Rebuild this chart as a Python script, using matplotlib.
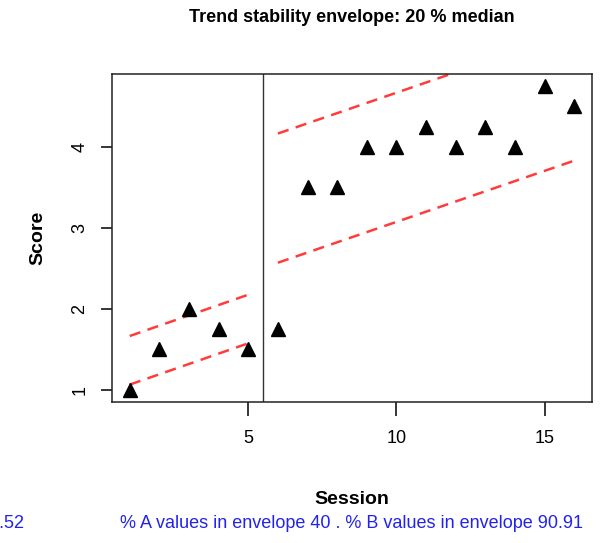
import numpy as np
import matplotlib
matplotlib.use("Agg")
import matplotlib.pyplot as plt

# data
session = [1, 2, 3, 4, 5, 6, 7, 8, 9, 10, 11, 12, 13, 14, 15, 16]
score = [1.0, 1.5, 2.0, 1.75, 1.5, 1.75, 3.5, 3.5, 4.0, 4.0, 4.25, 4.0, 4.25, 4.0, 4.75, 4.5]
phase_change = 5.5

# envelope lines (start x, end x, start y, end y)
env_a_x = [1, 5]
env_a_upper = [1.665, 2.175]
env_a_lower = [1.065, 1.575]
env_b_x = [6, 16]
env_b_upper = [4.165, 5.425]
env_b_lower = [2.57, 3.83]

title = "Trend stability envelope: 20 % median"
footer_left = "0.52"
footer = "% A values in envelope 40 . % B values in envelope 90.91"

plt.rcParams["font.family"] = ["Liberation Sans", "DejaVu Sans"]

fig = plt.figure(figsize=(6.06, 5.43), dpi=100)
ax = fig.add_axes([112 / 606, 1 - 402 / 543, 480 / 606, 328 / 543])

ax.plot(session, score, linestyle="none", marker="^", markersize=10.5,
        color="black", clip_on=False, zorder=3)
ax.axvline(phase_change, color="#333333", linewidth=1.0)

dash = dict(color="#ff3b3b", linewidth=1.8, linestyle=(0, (4.5, 3)))
ax.plot(env_a_x, env_a_upper, **dash)
ax.plot(env_a_x, env_a_lower, **dash)
ax.plot(env_b_x, env_b_upper, **dash)
ax.plot(env_b_x, env_b_lower, **dash)

xr = max(session) - min(session)
ax.set_xlim(min(session) - 0.04 * xr, max(session) + 0.04 * xr)
yr = max(score) - min(score)
ax.set_ylim(min(score) - 0.04 * yr, max(score) + 0.04 * yr)

ax.set_xticks([5, 10, 15])
ax.set_yticks([1, 2, 3, 4])
for s in ax.spines.values():
    s.set_linewidth(1.1)
    s.set_color("#222222")
ax.tick_params(axis="x", length=10, width=1.1, pad=10, labelsize=13)
ax.tick_params(axis="y", length=8, width=1.1, pad=9, labelsize=13)
for lab in ax.get_yticklabels():
    lab.set_rotation(90)
    lab.set_va("center")

ax.set_xlabel("Session", fontsize=14, fontweight="bold", labelpad=32)
ax.set_ylabel("Score", fontsize=14, fontweight="bold", labelpad=18)
fig.text(352 / 606, 1 - 18 / 543, title, ha="center", va="center",
         fontsize=13, fontweight="bold")
fig.text(24 / 606, 1 - 523 / 543, footer_left, ha="right", va="center",
         fontsize=13, color="#2222ee")
fig.text(352 / 606, 1 - 523 / 543, footer, ha="center", va="center",
         fontsize=13, color="#2222ee")

fig.savefig("out.png", dpi=100)
